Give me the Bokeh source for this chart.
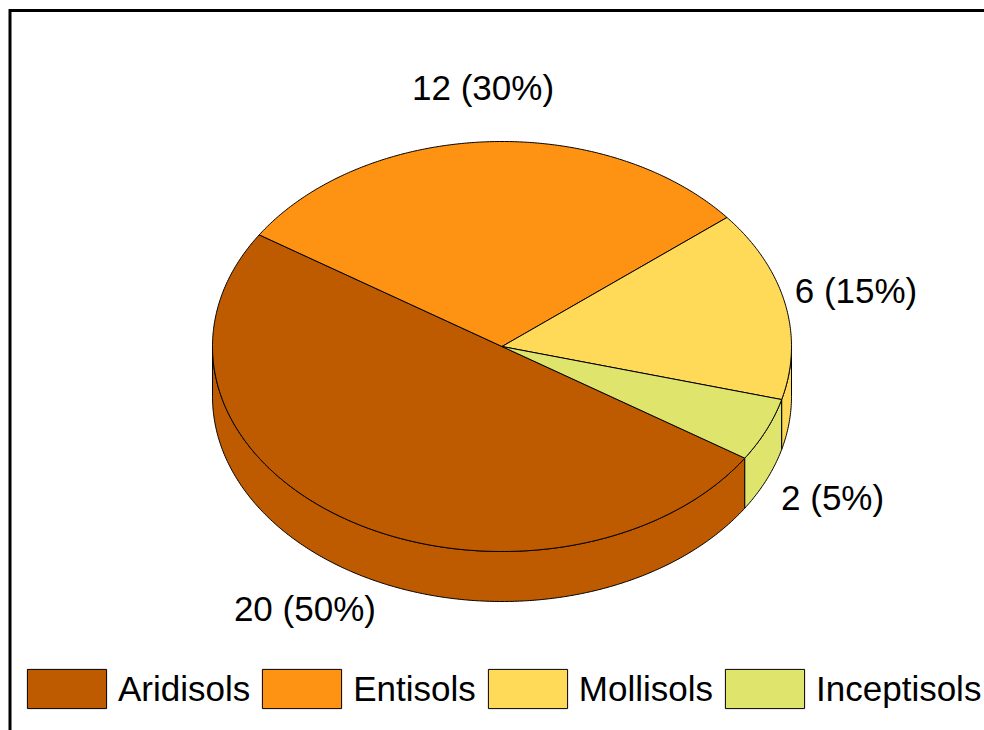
import numpy as np
from bokeh.plotting import figure
from bokeh.models import Range1d, Legend, LegendItem, ColumnDataSource
from bokeh.embed import file_html
from bokeh.resources import INLINE
from bokeh.core.properties import value

# ---- data ----
categories = ["Aridisols", "Entisols", "Mollisols", "Inceptisols"]
counts = [20, 12, 6, 2]
colors = ["#BE5A00", "#FE9212", "#FFDA58", "#DEE46C"]

# ---- geometry / style ----
START_DEG = 327.0   # first slice starts here, slices run clockwise
CX, CY = 501.5, 346.0
RX, RY = 289.5, 205.0
DEPTH = 50.0
LABEL_R = 1.25
FONT = "Liberation Sans"
W, H = 984, 730
FRAME = 9.5

total = sum(counts)
fracs = [c / total for c in counts]

bounds = []
a = START_DEG
for f in fracs:
    bounds.append((a - 360.0 * f, a))
    a -= 360.0 * f


def arc(lo, hi, dy=0.0, n_per_deg=2):
    n = max(2, int(abs(hi - lo) * n_per_deg) + 1)
    t = np.radians(np.linspace(lo, hi, n))
    return CX + RX * np.cos(t), CY - RY * np.sin(t) + dy


p = figure(width=W, height=H, x_range=Range1d(0, W), y_range=Range1d(H, 0),
           min_border=0, toolbar_location=None, output_backend="svg",
           x_axis_type=None, y_axis_type=None)
p.grid.visible = False
p.outline_line_color = None
p.background_fill_color = "white"
p.border_fill_color = "white"

# ---- frame lines (top & left) ----
p.line([FRAME, FRAME, W + 10], [H + 10, FRAME + 0.5, FRAME + 0.5], line_color="black",
       line_width=3, line_join="miter")

# ---- sides (front-facing part, angles in the lower half) ----
for (lo, hi), col in zip(bounds, colors):
    for k in (-1, 0, 1):
        s_lo = max(lo, 180 + 360 * k)
        s_hi = min(hi, 360 + 360 * k)
        if s_hi - s_lo > 1e-6:
            xt, yt = arc(s_lo, s_hi)
            xb, yb = arc(s_lo, s_hi, DEPTH)
            xs = np.concatenate([xt, xb[::-1]])
            ys = np.concatenate([yt, yb[::-1]])
            p.patch(xs, ys, fill_color=col, line_color="black", line_width=1,
                    line_join="round")

# ---- tops ----
tops = []
for (lo, hi), col in zip(bounds, colors):
    xa, ya = arc(lo, hi)
    xs = np.concatenate([[CX], xa])
    ys = np.concatenate([[CY], ya])
    r = p.patch(xs, ys, fill_color=col, line_color="black", line_width=1,
                line_join="round")
    tops.append(r)

# ---- labels ----
lx, ly, lt = [], [], []
for (lo, hi), c, f in zip(bounds, counts, fracs):
    mid = np.radians((lo + hi) / 2.0)
    lx.append(CX + LABEL_R * RX * np.cos(mid))
    ly.append(CY - LABEL_R * RY * np.sin(mid) + (DEPTH if np.sin(mid) < 0 else 0.0))
    lt.append(f"{c} ({round(f * 100)}%)")
src = ColumnDataSource(dict(x=lx, y=ly, t=lt))
p.text(x="x", y="y", text="t", source=src, text_align="center", text_baseline="middle",
       y_offset=-3, text_font=value(FONT), text_font_size="35px", text_color="black")

# ---- legend ----
legend = Legend(items=[LegendItem(label=cat, renderers=[r]) for cat, r in zip(categories, tops)],
                orientation="horizontal", location=(17, 17),
                glyph_width=99, glyph_height=49, label_standoff=2, spacing=2,
                padding=0, margin=0, border_line_color=None, background_fill_alpha=0,
                label_text_font=FONT, label_text_font_size="35px", label_text_color="black")
p.add_layout(legend)

open("out.html", "w").write(file_html(p, INLINE))
